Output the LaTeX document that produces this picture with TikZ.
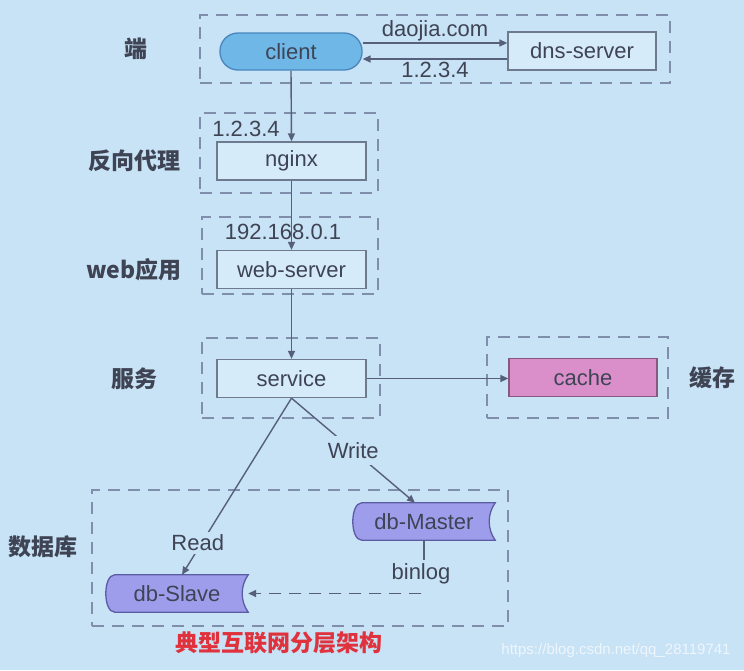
\documentclass[tikz,border=0pt]{standalone}
\usepackage{fontspec}
\setmainfont{Liberation Sans}
\newfontfamily\cjk{Noto Sans CJK SC}
\usetikzlibrary{arrows.meta}
\definecolor{bgc}{HTML}{C8E2F6}
\definecolor{txt}{HTML}{3E4454}
\definecolor{grpc}{HTML}{7F8EAA}
\definecolor{boxd}{HTML}{6E7A8E}
\definecolor{boxf}{HTML}{D6EBFA}
\definecolor{clif}{HTML}{6FB7E7}
\definecolor{clid}{HTML}{4A86BC}
\definecolor{cachef}{HTML}{DA8FCB}
\definecolor{cached}{HTML}{86597E}
\definecolor{dbf}{HTML}{9D9DEC}
\definecolor{dbd}{HTML}{5C5CA4}
\definecolor{ttl}{HTML}{E0323C}
\definecolor{wm}{HTML}{EEF6FC}
\definecolor{linec}{HTML}{56607A}
\pgfdeclarelayer{back}
\pgfdeclarelayer{shp}
\pgfsetlayers{back,shp,main}
\tikzset{
  lat/.style={font=\fontsize{22}{26}\selectfont, text=txt},
  cjklab/.style={font=\cjk\bfseries\fontsize{23}{27}\selectfont, text=txt},
  grp/.style={draw=grpc, line width=1.6pt, dash pattern=on 12pt off 8pt, inner sep=0pt},
  plainbox/.style={lat, draw=boxd, fill=boxf, line width=1.3pt, minimum width=149pt, minimum height=38pt, inner sep=0pt},
  clientbox/.style={lat, draw=clid, fill=clif, line width=1.3pt, rounded corners=18pt, minimum width=142pt, minimum height=37pt, inner sep=0pt},
  cachebox/.style={lat, draw=cached, fill=cachef, line width=1.3pt, minimum width=148pt, minimum height=38pt, inner sep=0pt},
  dbtext/.style={lat, minimum width=142pt, minimum height=37pt, inner sep=0pt},
  dbshape/.style={draw=dbd, fill=dbf, line width=1.3pt},
  conn/.style={draw=linec, line width=1.4pt, -{Triangle[length=8pt,width=7pt]}},
  plainconn/.style={draw=linec, line width=1.4pt},
  lbl/.style={lat, inner sep=0pt},
  cutlbl/.style={lat, fill=bgc, inner sep=5pt}
}
\newcommand{\storeddata}[1]{%
  \path[dbshape] ([xshift=9pt]#1.north west) -- (#1.north east)
    .. controls ([xshift=-8pt,yshift=-11pt]#1.north east) and ([xshift=-8pt,yshift=11pt]#1.south east) .. (#1.south east)
    -- ([xshift=9pt]#1.south west)
    .. controls ([xshift=-3pt]#1.south west) and ([xshift=-3pt]#1.north west) .. ([xshift=9pt]#1.north west) -- cycle;}
\begin{document}
\begin{tikzpicture}[x=1pt,y=-1pt]
\begin{pgfonlayer}{back}
\fill[bgc] (0,0) rectangle (744,670);
\end{pgfonlayer}
\useasboundingbox (0,0) rectangle (744,670);

% group boxes
\node[grp, minimum width=470pt, minimum height=68pt] (gtop) at (435,49) {};
\node[grp, minimum width=178pt, minimum height=80pt] (gnginx) at (289,153) {};
\node[grp, minimum width=176pt, minimum height=77pt] (gweb) at (290,255.5) {};
\node[grp, minimum width=178pt, minimum height=80pt] (gsvc) at (291,378) {};
\node[grp, minimum width=181pt, minimum height=81pt] (gcache) at (577.5,377.5) {};
\node[grp, minimum width=416pt, minimum height=136pt] (gdb) at (300,558) {};

% layer labels
\node[cjklab] (l1) at (136,49) {端};
\node[cjklab] (l2) at (134,161) {反向代理};
\node[cjklab] (l3) at (134,270) {web应用};
\node[cjklab] (l4) at (134,379) {服务};
\node[cjklab] (l5) at (712,378) {缓存};
\node[cjklab] (l6) at (43,547) {数据库};

% main nodes
\node[clientbox] (client) at (291,51.5) {client};
\node[plainbox, minimum width=148pt] (dns) at (582,51) {dns-server};
\node[plainbox] (nginx) at (291.5,161) {nginx};
\node[plainbox] (web) at (291.5,269.5) {web-server};
\node[plainbox] (svc) at (291.5,378.5) {service};
\node[cachebox] (cache) at (583,377.5) {cache};
\node[dbtext] (master) at (424,521.5) {db-Master};
\node[dbtext] (slave) at (177,593.5) {db-Slave};
\begin{pgfonlayer}{shp}
\storeddata{master}
\storeddata{slave}
\end{pgfonlayer}

% ip labels
\node[lbl] (ip1) at (246,129) {1.2.3.4};
\node[lbl] (ip2) at (283,232) {192.168.0.1};

% connectors
\draw[conn] ([yshift=8.5pt]client.east) -- node[lbl, midway, above=1pt] (dq) {daojia.com} ([yshift=8pt]dns.west);
\draw[conn] ([yshift=-8pt]dns.west) -- node[lbl, midway, below=2pt] (ipr) {1.2.3.4} ([yshift=-7.5pt]client.east);
\draw[conn] (client.south) -- (nginx.north);
\draw[conn] (nginx.south) -- (web.north);
\draw[conn] (web.south) -- (svc.north);
\draw[conn] (svc.east) -- (svc.east -| cache.west);
\draw[conn] (svc.south) -- node[cutlbl, pos=0.5, inner sep=6pt] (wr) {Write} ([xshift=-9pt]master.north);
\draw[conn] (svc.south) -- node[cutlbl, pos=0.82, xshift=-4pt, inner sep=3pt] (rd) {Read} ([xshift=5pt]slave.north);
\node[cutlbl, inner sep=4pt] (bl) at (421,574) {binlog};
\draw[plainconn] (master.south) -- (master.south |- bl.north);
\draw[conn, dash pattern=on 12pt off 8pt] (bl.south |- slave.east) -- (slave.east);

% title and watermark
\node[font=\cjk\bfseries\fontsize{23}{27}\selectfont, text=ttl] (title) at (279,643) {典型互联网分层架构};
\node[font=\fontsize{15}{18}\selectfont, text=wm] (wmk) at (616,651) {https://blog.csdn.net/qq\_28119741};
\end{tikzpicture}
\end{document}
